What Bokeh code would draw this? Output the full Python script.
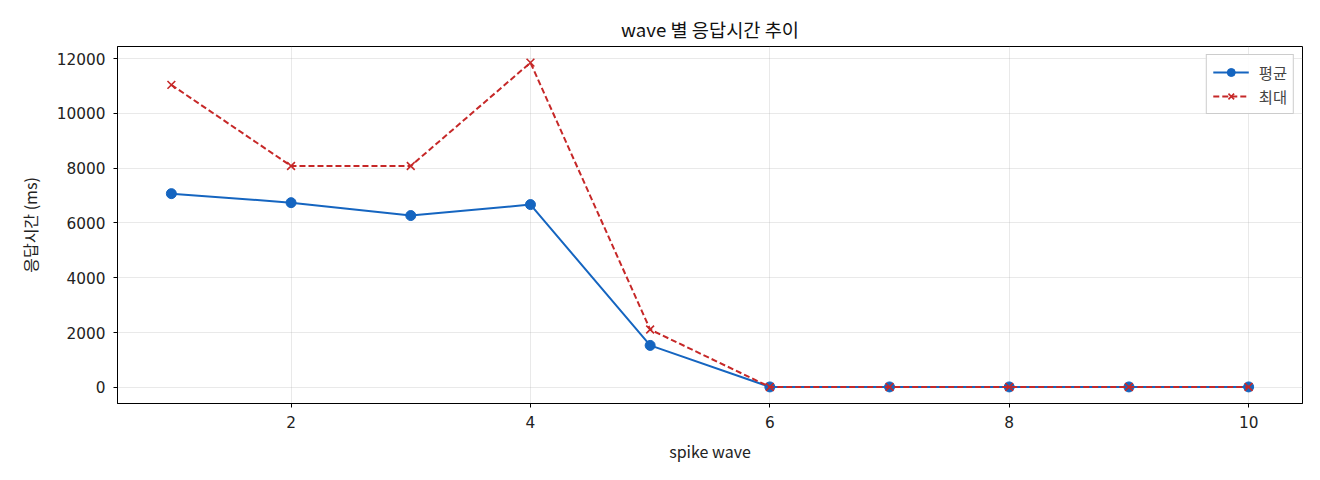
from bokeh.plotting import figure
from bokeh.models import Range1d, FixedTicker, Legend, LegendItem
from bokeh.embed import file_html
from bokeh.resources import INLINE

waves = [1, 2, 3, 4, 5, 6, 7, 8, 9, 10]
avg_ms = [7070, 6740, 6270, 6670, 1530, 15, 15, 15, 15, 15]
max_ms = [11040, 8080, 8080, 11850, 2110, 15, 15, 15, 15, 15]
x_ticks = [2, 4, 6, 8, 10]
y_ticks = [0, 2000, 4000, 6000, 8000, 10000, 12000]

FONT = "Noto Sans CJK KR"
NUMFONT = "DejaVu Sans"
BLUE = "#1565c0"
RED = "#c62828"

p = figure(width=1320, height=480, output_backend="svg", toolbar_location=None,
           x_range=Range1d(0.55, 10.45), y_range=Range1d(-590, 12440),
           title="wave 별 응답시간 추이",
           min_border_left=117, min_border_right=18, min_border_top=46, min_border_bottom=77)

p.title.align = "center"
p.title.text_font = FONT
p.title.text_font_size = "14pt"
p.title.text_font_style = "normal"
p.title.text_color = "#111111"

p.outline_line_color = "black"
p.outline_line_width = 1
p.outline_line_alpha = 1

for ax in (p.xaxis[0], p.yaxis[0]):
    ax.major_label_text_font = NUMFONT
    ax.major_label_text_font_size = "11.5pt"
    ax.major_label_text_color = "#222222"
    ax.axis_label_text_font = FONT
    ax.axis_label_text_font_size = "12pt"
    ax.axis_label_text_font_style = "normal"
    ax.axis_label_text_color = "#222222"
    ax.major_tick_in = 0
    ax.major_tick_out = 4
    ax.minor_tick_line_color = None
    ax.axis_line_color = "black"

p.xaxis.ticker = FixedTicker(ticks=x_ticks)
p.yaxis.ticker = FixedTicker(ticks=y_ticks)
p.xaxis.axis_label = "spike wave"
p.yaxis.axis_label = "응답시간 (ms)"
p.yaxis.axis_label_standoff = 12
p.xaxis.axis_label_standoff = 8
p.xaxis.major_label_standoff = 8
p.yaxis.major_label_standoff = 8

p.xgrid.ticker = FixedTicker(ticks=x_ticks)
p.ygrid.ticker = FixedTicker(ticks=y_ticks)
p.grid.grid_line_color = "#b0b0b0"
p.grid.grid_line_alpha = 0.35
p.grid.grid_line_width = 0.8

l1 = p.line(waves, avg_ms, line_color=BLUE, line_width=2)
s1 = p.scatter(waves, avg_ms, marker="circle", size=10, fill_color=BLUE, line_color=BLUE)
l2 = p.line(waves, max_ms, line_color=RED, line_width=2, line_dash="6 3")
s2 = p.scatter(waves, max_ms, marker="x", size=11, line_color=RED, line_width=1.6)

legend = Legend(items=[LegendItem(label="평균", renderers=[l1, s1]),
                       LegendItem(label="최대", renderers=[l2, s2])],
                location="top_right")
legend.label_text_font = FONT
legend.label_text_font_size = "11.5pt"
legend.border_line_color = "#cccccc"
legend.border_line_alpha = 1
legend.background_fill_alpha = 0.9
legend.margin = 8
legend.padding = 6
legend.spacing = 2
legend.glyph_width = 36
legend.label_standoff = 10
p.add_layout(legend)

open("out.html", "w").write(file_html(p, INLINE))
